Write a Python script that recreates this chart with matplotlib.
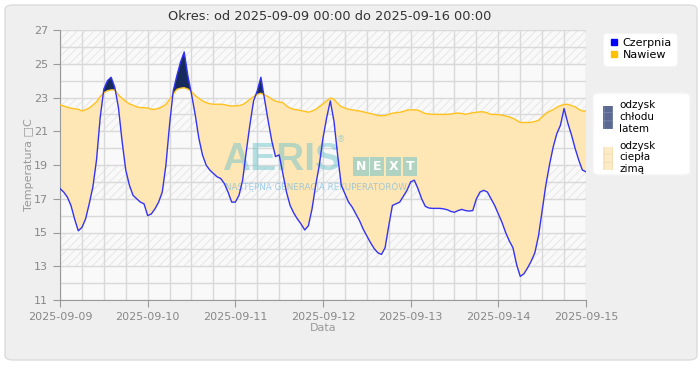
import numpy as np
import pandas as pd
import matplotlib
matplotlib.use("Agg")
import matplotlib.pyplot as plt
from matplotlib.patches import FancyBboxPatch, Patch
from matplotlib.lines import Line2D

# dane godzinowe od 2025-09-09 00:00
czerpnia = [
    17.6, 17.4, 17.1, 16.6, 15.8, 15.1, 15.3, 15.8, 16.7, 17.7, 19.3, 21.8,
    23.5, 24.0, 24.2, 23.6, 22.4, 20.4, 18.7, 17.8, 17.2, 17.0, 16.8, 16.7,
    16.0, 16.1, 16.4, 16.8, 17.4, 19.0, 21.4, 23.4, 24.3, 25.1, 25.7, 24.3,
    23.2, 22.0, 20.6, 19.6, 19.0, 18.7, 18.5, 18.3, 18.2, 17.9, 17.4, 16.8,
    16.8, 17.2, 18.1, 19.8, 21.4, 22.8, 23.4, 24.2, 22.9, 21.6, 20.4, 19.5,
    19.6, 18.5, 17.4, 16.6, 16.15, 15.8, 15.5, 15.15, 15.4, 16.4, 17.8, 19.0,
    20.6, 21.8, 22.8, 21.6, 19.6, 17.8, 17.3, 16.8, 16.5, 16.1, 15.7, 15.2,
    14.8, 14.4, 14.05, 13.8, 13.7, 14.1, 15.4, 16.6, 16.7, 16.8, 17.15, 17.5,
    18.0, 18.1, 17.6, 17.0, 16.55, 16.45, 16.43, 16.43, 16.43, 16.4, 16.35, 16.25,
    16.2, 16.3, 16.37, 16.3, 16.27, 16.3, 17.0, 17.4, 17.5, 17.4, 17.0, 16.6,
    16.1, 15.6, 15.0, 14.5, 14.1, 13.1, 12.4, 12.55, 12.9, 13.3, 13.8, 14.8,
    16.3, 17.8, 19.0, 20.05, 20.85, 21.35, 22.35, 21.5, 20.8, 20.0, 19.3, 18.7,
    18.6,
]
nawiew = [
    22.56, 22.5, 22.42, 22.37, 22.33, 22.3, 22.2, 22.28, 22.38, 22.55, 22.75, 23.05,
    23.28, 23.4, 23.45, 23.45, 23.15, 22.95, 22.77, 22.62, 22.54, 22.45, 22.4, 22.4,
    22.38, 22.3, 22.3, 22.36, 22.45, 22.6, 22.88, 23.2, 23.48, 23.55, 23.58, 23.5,
    23.35, 23.12, 22.95, 22.8, 22.7, 22.63, 22.6, 22.6, 22.6, 22.58, 22.52, 22.5,
    22.5, 22.52, 22.58, 22.72, 22.9, 23.05, 23.18, 23.25, 23.15, 23.05, 22.9, 22.79,
    22.73, 22.7, 22.5, 22.37, 22.3, 22.27, 22.22, 22.18, 22.13, 22.2, 22.3, 22.45,
    22.62, 22.8, 22.97, 22.9, 22.65, 22.45, 22.38, 22.3, 22.27, 22.23, 22.2, 22.15,
    22.1, 22.05, 22.0, 21.93, 21.92, 21.93, 22.0, 22.07, 22.1, 22.12, 22.18, 22.25,
    22.27, 22.27, 22.25, 22.15, 22.05, 22.02, 22.0, 22.0, 22.0, 22.0, 22.0, 22.02,
    22.06, 22.08, 22.05, 22.0, 22.05, 22.1, 22.12, 22.15, 22.15, 22.08, 22.0, 22.0,
    21.98, 21.96, 21.9, 21.85, 21.77, 21.65, 21.52, 21.52, 21.52, 21.53, 21.58, 21.65,
    21.85, 22.05, 22.18, 22.28, 22.42, 22.52, 22.58, 22.6, 22.52, 22.45, 22.3, 22.2,
    22.2,
]
yticks = [11, 13, 15, 17, 19, 21, 23, 25, 27]
xticklabels = ["2025-09-09", "2025-09-10", "2025-09-11", "2025-09-12",
               "2025-09-13", "2025-09-14", "2025-09-15"]

t = pd.date_range("2025-09-09 00:00", periods=len(czerpnia), freq="h")
cz = np.array(czerpnia)
nw = np.array(nawiew)

plt.rcParams["font.family"] = ["DejaVu Sans"]
plt.rcParams["hatch.linewidth"] = 0.6

fig = plt.figure(figsize=(7, 3.8), dpi=100)
fig.patch.set_facecolor("white")
W, H = 700, 380


def box(x, y, w, h, fc, ec, z=-5, r=0.012):
    # prostokat w pikselach (od gory)
    p = FancyBboxPatch((x / W, 1 - (y + h) / H), w / W, h / H,
                       boxstyle="round,pad=0,rounding_size=%s" % r,
                       transform=fig.transFigure, facecolor=fc,
                       edgecolor=ec, lw=1, zorder=z)
    fig.patches.append(p)


# szare tlo panelu
box(5, 5, 692, 355, "#efefef", "#dcdcdc")
box(593, 93, 97, 82, "white", "#f4f4f4", z=-4, r=0.01)

ax = fig.add_axes([60 / W, 1 - 300 / H, 526 / W, 270 / H])
ax.set_facecolor("#f9f9f9")

x0 = pd.Timestamp("2025-09-09")
x1 = pd.Timestamp("2025-09-15")
ax.set_xlim(x0, x1)
ax.set_ylim(11, 27)

# pasy kreskowane
for lo in [25, 21, 17, 13]:
    ax.axhspan(lo, lo + 2, facecolor="#f9f9f9", edgecolor="#e4e4e4",
               hatch="////", lw=0, zorder=0)

# siatka
ax.set_yticks(yticks)
ax.set_yticks(np.arange(11, 28, 1), minor=True)
ax.set_xticks(pd.date_range(x0, x1, freq="D"))
ax.set_xticks(pd.date_range(x0, x1, freq="6h"), minor=True)
ax.set_xticklabels(xticklabels)
ax.grid(which="both", color="#d9d9d9", lw=1, zorder=1)
ax.set_axisbelow(True)

# wypelnienia
ax.fill_between(t, cz, nw, where=nw >= cz, interpolate=True,
                facecolor="#ffe6b5", edgecolor="none", zorder=2)
ax.fill_between(t, cz, nw, where=cz > nw, interpolate=True,
                facecolor="#172a5c", edgecolor="none", zorder=2)

# znak wodny
ax.text(0.308, 0.48, "AERIS", transform=ax.transAxes, fontsize=28,
        fontweight="bold", family=["Liberation Sans Narrow", "Liberation Sans"],
        color="#6fc4cc", alpha=0.5, ha="left", va="baseline", zorder=3)
ax.text(0.527, 0.585, "®", transform=ax.transAxes, fontsize=6,
        color="#6fc4cc", alpha=0.6, zorder=3)
for i, ch in enumerate("NEXT"):
    ax.text(0.572 + i * 0.0314, 0.495, ch, transform=ax.transAxes,
            fontsize=9, fontweight="bold", color="white", ha="center",
            va="center", zorder=3,
            bbox=dict(boxstyle="square,pad=0.22", facecolor="#6fc4cc",
                      edgecolor="none", alpha=0.55))
ax.text(0.314, 0.418, "NASTĘPNA GENERACJA REKUPERATORÓW",
        transform=ax.transAxes, fontsize=6.3, color="#5aaee0", alpha=0.55,
        ha="left", va="center", zorder=3)

# linie
ax.plot(t, nw, color="#ffc21f", lw=1, zorder=4)
ax.plot(t, cz, color="#3434f2", lw=1, zorder=4)

for s in ["top", "right"]:
    ax.spines[s].set_visible(False)
for s in ["left", "bottom"]:
    ax.spines[s].set_color("#999999")
ax.tick_params(which="major", colors="#999999", labelcolor="#888888",
               labelsize=8, length=5)
ax.tick_params(which="minor", length=0)

ax.set_xlabel("Data", color="#999999", fontsize=8, labelpad=1)
ax.set_ylabel("Temperatura \u25a1C", color="#999999", fontsize=8, labelpad=0)
fig.text(330 / W, 1 - 17 / H, "Okres: od 2025-09-09 00:00 do 2025-09-16 00:00",
         ha="center", va="center", fontsize=9.3, color="#333333")

# legendy
h1 = [Line2D([], [], marker="s", ls="none", color="#0000ff", markersize=5),
      Line2D([], [], marker="s", ls="none", color="#ffc000", markersize=5)]
leg1 = fig.legend(h1, ["Czerpnia", "Nawiew"], loc="upper left",
                  bbox_to_anchor=(598 / W, 1 - 28 / H), fontsize=8,
                  frameon=True, fancybox=True, facecolor="white",
                  edgecolor="white", framealpha=1, handletextpad=0.3,
                  handlelength=1.0, borderpad=0.4, labelspacing=0.2)
h2 = [Patch(facecolor="#5c6a93", edgecolor="#7a86a8", hatch="++", lw=0),
      Patch(facecolor="#fbebc9", edgecolor="#f5ddb0", hatch="++", lw=0)]
leg2 = fig.legend(h2, ["odzysk\nchłodu\nlatem", "odzysk\nciepła\nzimą"],
                  loc="upper left", bbox_to_anchor=(594 / W, 1 - 91 / H),
                  fontsize=7.5, frameon=False,
                  handlelength=0.9, handleheight=3.0, handletextpad=0.6,
                  borderpad=0.4, labelspacing=0.7)
fig.add_artist(leg1)

fig.savefig("out.png", dpi=100)
